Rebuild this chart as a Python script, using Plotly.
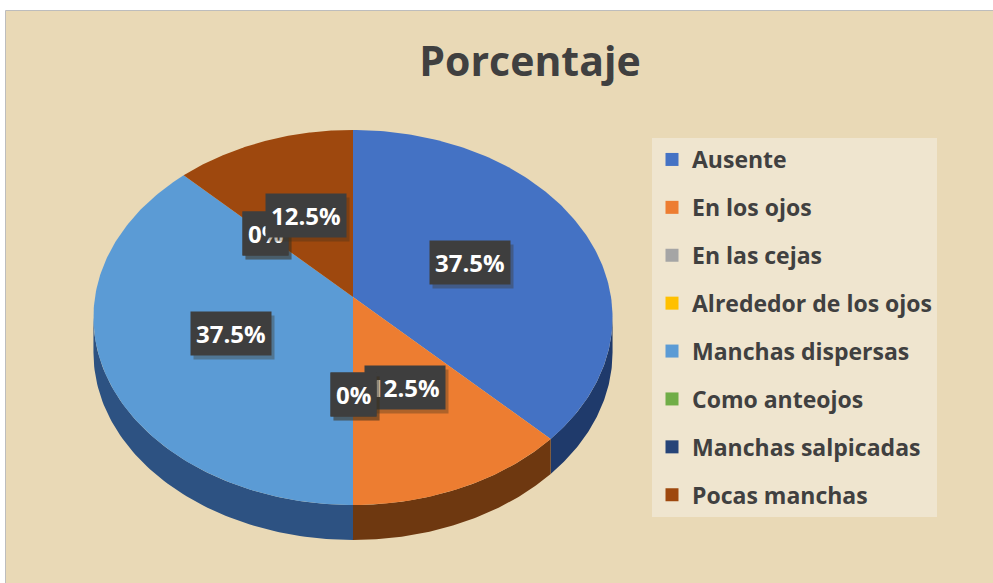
import numpy as np
import plotly.graph_objects as go

# ---------------- data ----------------
categories = ["Ausente", "En los ojos", "En las cejas", "Alrededor de los ojos",
              "Manchas dispersas", "Como anteojos", "Manchas salpicadas", "Pocas manchas"]
percentages = [37.5, 12.5, 0, 0, 37.5, 0, 0, 12.5]
title_text = "Porcentaje"

# ---------------- style ----------------
face_colors = ["#4472C4", "#ED7D31", "#A5A5A5", "#FFC000",
               "#5B9BD5", "#70AD47", "#264478", "#9E480E"]
side_colors = ["#1F3A6B", "#6E3810", "#5A5A5A", "#8A6A00",
               "#2D5282", "#3C6226", "#15274A", "#5A2808"]

W, H = 993, 583
CX, CY = 353, 297      # pie centre (pixels)
RX, RY = 258, 185.3    # projected radii
PERSP = 0.109          # perspective factor
DEPTH = 35             # thickness of the 3D pie
LABEL_R = 0.5
FONT = "Open Sans"
TEXT_DARK = "#404040"


def project(a, r=1.0):
    u = r * np.sin(a)
    v = r * np.cos(a)
    d = 1 + PERSP * v
    return CX + RX * u / d, CY - RY * v / d


vals = np.array(percentages, dtype=float)
fracs = vals / vals.sum()
ends = np.cumsum(fracs) * 2 * np.pi
starts = ends - fracs * 2 * np.pi

a_vis0 = np.arccos(-PERSP)
a_vis1 = 2 * np.pi - a_vis0

fig = go.Figure()

# side walls (front visible part)
for i, cat in enumerate(categories):
    s, e = max(starts[i], a_vis0), min(ends[i], a_vis1)
    if e <= s:
        continue
    a = np.linspace(s, e, 80)
    x, y = project(a)
    xs = np.concatenate([x, x[::-1]])
    ys = np.concatenate([y, (y + DEPTH)[::-1]])
    fig.add_trace(go.Scatter(x=xs, y=ys, fill="toself", mode="lines",
                             line=dict(width=0), fillcolor=side_colors[i],
                             hoverinfo="skip", showlegend=False))

# top faces
for i, cat in enumerate(categories):
    if fracs[i] <= 0:
        continue
    a = np.linspace(starts[i], ends[i], 160)
    x, y = project(a)
    xs = np.concatenate([[CX], x, [CX]])
    ys = np.concatenate([[CY], y, [CY]])
    fig.add_trace(go.Scatter(x=xs, y=ys, fill="toself", mode="lines",
                             line=dict(width=0), fillcolor=face_colors[i],
                             name=cat, hoverinfo="name", showlegend=False))

# legend entries
for i, cat in enumerate(categories):
    fig.add_trace(go.Scatter(x=[None], y=[None], mode="markers", name=cat,
                             legendgroup=cat,
                             marker=dict(symbol="square", size=13, color=face_colors[i])))

# data labels
for i, cat in enumerate(categories):
    mid = (starts[i] + ends[i]) / 2
    lx, ly = project(mid, LABEL_R)
    txt = f"{percentages[i]:g}%"
    fig.add_annotation(x=lx, y=ly, xref="x", yref="y", text=txt, showarrow=False,
                       xshift=3, yshift=-4,
                       font=dict(family=FONT, size=24, color="rgba(0,0,0,0)", weight="bold"),
                       bgcolor="rgba(60,50,30,0.35)", borderpad=5)
    fig.add_annotation(x=lx, y=ly, xref="x", yref="y", text=txt, showarrow=False,
                       font=dict(family=FONT, size=24, color="white", weight="bold"),
                       bgcolor="#3E3E3E", borderpad=5)

# background panel
fig.add_shape(type="rect", xref="x", yref="y", x0=5.5, y0=10.5, x1=W + 5, y1=H + 5,
              fillcolor="#E9D9B6", line=dict(color="#BDBDBD", width=1), layer="below")

fig.update_layout(
    width=W, height=H, autosize=False,
    margin=dict(l=0, r=0, t=0, b=0),
    paper_bgcolor="white", plot_bgcolor="rgba(0,0,0,0)",
    xaxis=dict(range=[0, W], visible=False, fixedrange=True),
    yaxis=dict(range=[H, 0], visible=False, fixedrange=True),
    title=dict(text=title_text, x=530 / W, xanchor="center", y=1 - 62 / H, yanchor="middle",
               font=dict(family=FONT, size=41, color=TEXT_DARK, weight="bold")),
    legend=dict(x=652 / W, xanchor="left", y=1 - 138 / H, yanchor="top",
                bgcolor="#EFE5CF", borderwidth=0, tracegroupgap=15,
                itemwidth=30,
                font=dict(family=FONT, size=23, color=TEXT_DARK, weight="bold")),
    showlegend=True,
)

fig.write_html("out.html", config={"displayModeBar": False},
               post_script="document.body.style.margin='0';document.body.style.overflow='hidden';")
